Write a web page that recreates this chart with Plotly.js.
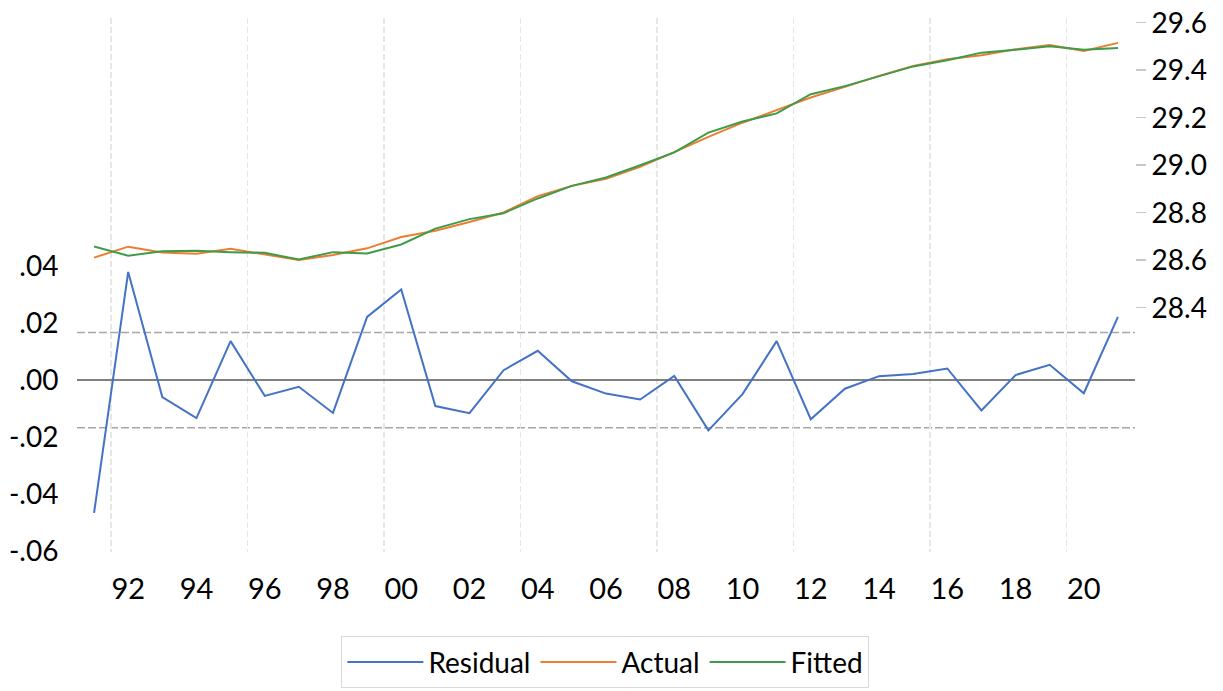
<!DOCTYPE html>
<html><head><meta charset="utf-8">
<script src="https://cdn.plot.ly/plotly-3.0.1.min.js"></script>
<style>html,body{margin:0;padding:0;background:#fff}#chart{width:1223px;height:691px}</style>
</head><body><div id="chart"></div>
<script>
const years = [1991,1992,1993,1994,1995,1996,1997,1998,1999,2000,2001,2002,2003,2004,2005,2006,2007,2008,2009,2010,2011,2012,2013,2014,2015,2016,2017,2018,2019,2020,2021];
const residual = [-0.0466,0.0380,-0.0059,-0.0133,0.0137,-0.0055,-0.0023,-0.0115,0.0222,0.0318,-0.0091,-0.0116,0.0035,0.0103,-0.0004,-0.0047,-0.0068,0.0015,-0.0176,-0.0049,0.0137,-0.0137,-0.0030,0.0014,0.0022,0.0041,-0.0106,0.0018,0.0054,-0.0046,0.0222];
const actual = [28.611,28.657,28.632,28.627,28.648,28.625,28.601,28.622,28.650,28.698,28.724,28.761,28.801,28.870,28.913,28.943,28.993,29.055,29.119,29.179,29.232,29.285,29.330,29.376,29.418,29.446,29.463,29.488,29.506,29.481,29.515];
const fitted = [28.658,28.619,28.638,28.640,28.634,28.631,28.603,28.634,28.628,28.666,28.733,28.773,28.798,28.860,28.913,28.948,29.000,29.054,29.137,29.184,29.218,29.299,29.333,29.375,29.416,29.442,29.474,29.486,29.501,29.486,29.493];
const residualSE = 0.0167;
const xTickVals = [1992,1994,1996,1998,2000,2002,2004,2006,2008,2010,2012,2014,2016,2018,2020];
const xTickText = ['92','94','96','98','00','02','04','06','08','10','12','14','16','18','20'];
const gridYears = [1991.5,1995.5,1999.5,2003.5,2007.5,2011.5,2015.5,2019.5];
const leftTickVals = [-0.06,-0.04,-0.02,0,0.02,0.04];
const leftTickText = ['-.06','-.04','-.02','.00','.02','.04'];
const rightTickVals = [28.4,28.6,28.8,29.0,29.2,29.4,29.6];
const rightTickText = ['28.4','28.6','28.8','29.0','29.2','29.4','29.6'];

const FONT = 'Lato, "Open Sans", sans-serif';

const traces = [
  {x: years, y: residual, name: 'Residual', type: 'scatter', mode: 'lines',
   line: {color: '#4472C4', width: 2}, xaxis: 'x', yaxis: 'y'},
  {x: years, y: actual, name: 'Actual', type: 'scatter', mode: 'lines',
   line: {color: '#ED7D31', width: 2}, xaxis: 'x', yaxis: 'y2'},
  {x: years, y: fitted, name: 'Fitted', type: 'scatter', mode: 'lines',
   line: {color: '#3E9B4A', width: 2}, xaxis: 'x', yaxis: 'y2'}
];

const layout = {
  width: 1223, height: 691,
  margin: {l: 77, r: 88, t: 18, b: 139},
  paper_bgcolor: '#ffffff', plot_bgcolor: '#ffffff',
  font: {family: FONT, size: 28, color: '#000000'},
  showlegend: true,
  xaxis: {
    range: [1990.5, 2021.5],
    tickmode: 'array', tickvals: xTickVals, ticktext: xTickText,
    showgrid: false, zeroline: false, showline: false,
    ticks: 'outside', ticklen: 11, tickcolor: 'rgba(0,0,0,0)',
    tickfont: {family: FONT, size: 29, color: '#000'},
    minor: {tickmode: 'array', tickvals: gridYears, showgrid: true,
            gridcolor: '#e6e6e6', gridwidth: 1.5, griddash: '6px,3px', ticks: ''}
  },
  yaxis: {
    range: [-0.0603, 0.1271],
    tickmode: 'array', tickvals: leftTickVals, ticktext: leftTickText,
    showgrid: false, zeroline: true, zerolinecolor: '#808080', zerolinewidth: 2,
    showline: false, ticks: 'outside', ticklen: 12, tickcolor: 'rgba(0,0,0,0)',
    tickfont: {family: FONT, size: 28, color: '#000'}
  },
  yaxis2: {
    overlaying: 'y', side: 'right',
    range: [27.3714, 29.6198],
    tickmode: 'array', tickvals: rightTickVals, ticktext: rightTickText,
    showgrid: false, zeroline: false, showline: false,
    ticks: 'outside', ticklen: 10, tickwidth: 1.5, tickcolor: '#c8c8c8',
    tickfont: {family: FONT, size: 28, color: '#000'}
  },
  shapes: [residualSE, -residualSE].map(v => ({
    type: 'line', xref: 'paper', x0: 0, x1: 1, yref: 'y', y0: v, y1: v,
    line: {color: '#a6a6a6', width: 1.5, dash: '8px,3px'}, layer: 'below'
  })),
  legend: {
    orientation: 'h', xref: 'container', x: 0.495, xanchor: 'center',
    yref: 'container', y: 0.079, yanchor: 'top',
    bordercolor: '#d9d9d9', borderwidth: 1, bgcolor: '#ffffff',
    font: {family: FONT, size: 28, color: '#000'}, itemwidth: 76
  }
};

Plotly.newPlot('chart', traces, layout, {displayModeBar: false, staticPlot: true});
</script></body></html>
